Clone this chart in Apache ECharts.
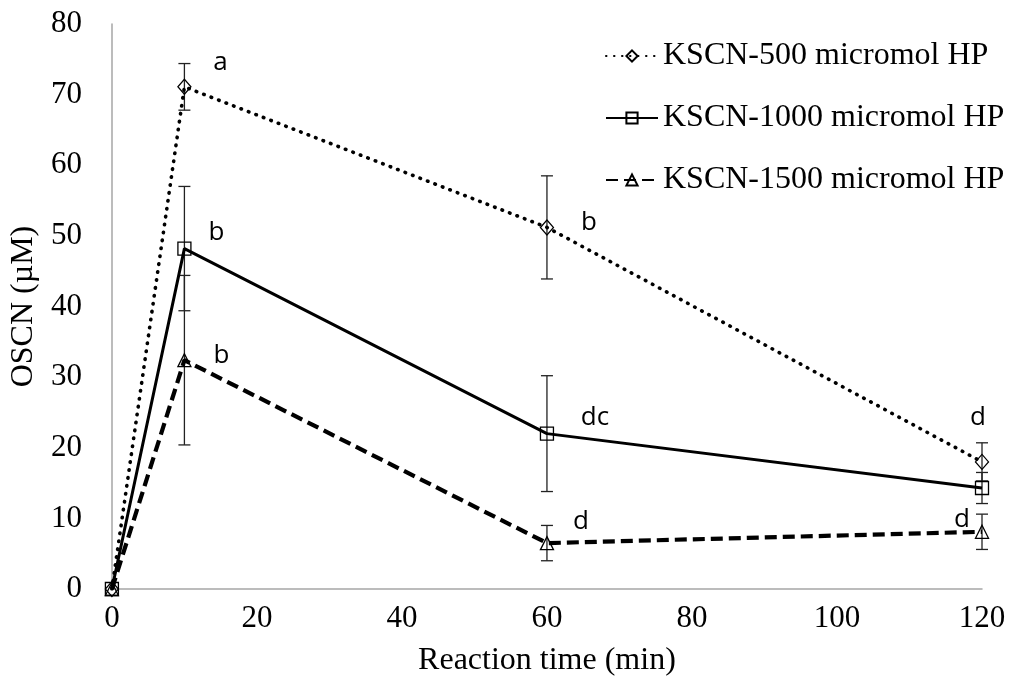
<!DOCTYPE html>
<html>
<head>
<meta charset="utf-8">
<script src="https://cdn.jsdelivr.net/npm/echarts@6/dist/echarts.min.js"></script>
<style>
  html, body { margin: 0; padding: 0; background: #fff; }
  #chart { width: 1011px; height: 686px; }
</style>
</head>
<body>
<div id="chart"></div>
<script>
// Reaction times (min)
const times = [0, 10, 60, 120];

// Series names
const seriesNames = ['KSCN-500 micromol HP', 'KSCN-1000 micromol HP', 'KSCN-1500 micromol HP'];

// Mean OSCN concentration (µM)
const hp500 = [0, 71.1, 51.2, 18.0];
const hp1000 = [0, 48.2, 22.0, 14.3];
const hp1500 = [0, 32.4, 6.5, 8.1];

// Error bar half-widths (µM)
const hp500Err = [0, 3.3, 7.3, 2.7];
const hp1000Err = [0, 8.8, 8.2, 2.2];
const hp1500Err = [0, 12.0, 2.5, 2.5];

// Significance letters, per point (empty = none)
const hp500Letters = ['', 'a', 'b', 'd'];
const hp1000Letters = ['', 'b', 'dc', ''];
const hp1500Letters = ['', 'b', 'd', 'd'];

// Letter placement relative to each point
const hp500LetterOffsets = [[0, 0], [36, -24], [42, -5], [-4, -44]];
const hp1000LetterOffsets = [[0, 0], [32, -16], [48, -16], [0, 0]];
const hp1500LetterOffsets = [[0, 0], [37, -5], [34, -22], [-20, -12]];

const serif = '"Liberation Serif", "Times New Roman", serif';
const sans = '"Open Sans", "Liberation Sans", sans-serif';

function pointData(values, letters, offsets) {
  return times.map((t, i) => {
    const item = { value: [t, values[i]] };
    if (letters[i]) {
      item.label = {
        show: true,
        position: 'inside',
        formatter: letters[i],
        offset: offsets[i],
        fontFamily: sans,
        fontSize: 26,
        color: '#000'
      };
    }
    return item;
  });
}

function errData(values, errs) {
  return times.map((t, i) => [t, values[i], errs[i]]);
}

// Vertical error bars with caps
function errorBarSeries(name, values, errs) {
  return {
    name: name,
    type: 'custom',
    z: 1,
    silent: true,
    data: errData(values, errs),
    renderItem: function (params, api) {
      const x = api.value(0), y = api.value(1), e = api.value(2);
      if (!e) return null;
      const top = api.coord([x, y + e]);
      const bot = api.coord([x, y - e]);
      const half = 6;
      const style = { stroke: '#222', lineWidth: 1.3 };
      return {
        type: 'group',
        children: [
          { type: 'line', shape: { x1: top[0], y1: top[1], x2: bot[0], y2: bot[1] }, style: style },
          { type: 'line', shape: { x1: top[0] - half, y1: top[1], x2: top[0] + half, y2: top[1] }, style: style },
          { type: 'line', shape: { x1: bot[0] - half, y1: bot[1], x2: bot[0] + half, y2: bot[1] }, style: style }
        ]
      };
    }
  };
}

const markerStyle = { color: 'rgba(255,255,255,0)', borderColor: '#000', borderWidth: 1.3 };

const chart = echarts.init(document.getElementById('chart'), null, { renderer: 'canvas' });

chart.setOption({
  backgroundColor: '#fff',
  animation: false,
  grid: { left: 102, right: 29, top: 24, bottom: 97, containLabel: false },
  legend: {
    data: seriesNames,
    orient: 'vertical',
    left: 600,
    top: 35,
    itemWidth: 52,
    itemHeight: 14,
    itemGap: 30,
    textStyle: { fontFamily: serif, fontSize: 32, color: '#000', lineHeight: 32 }
  },
  xAxis: {
    type: 'value',
    min: 0,
    max: 120,
    interval: 20,
    name: 'Reaction time (min)',
    nameLocation: 'middle',
    nameGap: 56,
    nameTextStyle: { fontFamily: serif, fontSize: 32, color: '#000' },
    axisLine: { show: true, lineStyle: { color: '#a6a6a6', width: 1.5 } },
    axisTick: { show: false },
    splitLine: { show: false },
    axisLabel: { fontFamily: serif, fontSize: 31, color: '#000', margin: 14 }
  },
  yAxis: {
    type: 'value',
    min: 0,
    max: 80,
    interval: 10,
    name: 'OSCN (µM)',
    nameLocation: 'middle',
    nameGap: 62,
    nameTextStyle: { fontFamily: serif, fontSize: 32, color: '#000' },
    axisLine: { show: true, lineStyle: { color: '#a6a6a6', width: 1.5 } },
    axisTick: { show: false },
    splitLine: { show: false },
    axisLabel: { fontFamily: serif, fontSize: 31, color: '#000', margin: 30 }
  },
  series: [
    errorBarSeries('err500', hp500, hp500Err),
    errorBarSeries('err1000', hp1000, hp1000Err),
    errorBarSeries('err1500', hp1500, hp1500Err),
    {
      name: seriesNames[0],
      type: 'line',
      z: 3,
      data: pointData(hp500, hp500Letters, hp500LetterOffsets),
      symbol: 'diamond',
      symbolSize: [13, 15],
      itemStyle: markerStyle,
      lineStyle: { color: '#000', width: 3.6, type: [0.5, 7.5], cap: 'round' }
    },
    {
      name: seriesNames[1],
      type: 'line',
      z: 3,
      data: pointData(hp1000, hp1000Letters, hp1000LetterOffsets),
      symbol: 'rect',
      symbolSize: 13,
      itemStyle: markerStyle,
      lineStyle: { color: '#000', width: 3, type: 'solid' }
    },
    {
      name: seriesNames[2],
      type: 'line',
      z: 3,
      data: pointData(hp1500, hp1500Letters, hp1500LetterOffsets),
      symbol: 'triangle',
      symbolSize: 13,
      itemStyle: markerStyle,
      lineStyle: { color: '#000', width: 4.2, type: [12, 6] }
    }
  ]
});
</script>
</body>
</html>
